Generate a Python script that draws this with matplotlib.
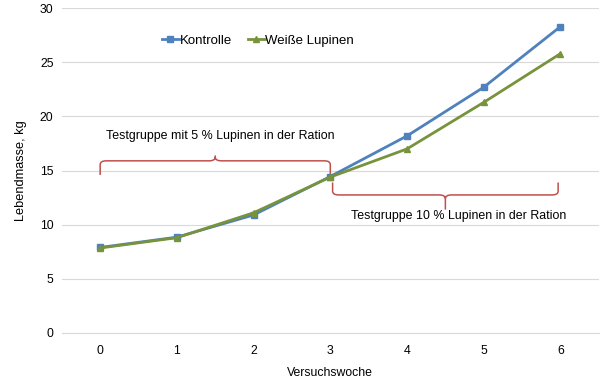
import numpy as np
import matplotlib
matplotlib.use("Agg")
import matplotlib.pyplot as plt
from matplotlib.path import Path
from matplotlib.patches import PathPatch

plt.rcParams['font.family'] = ['Liberation Sans', 'DejaVu Sans']

weeks = [0, 1, 2, 3, 4, 5, 6]
kontrolle = [7.9, 8.85, 10.9, 14.45, 18.2, 22.7, 28.3]
lupinen = [7.85, 8.8, 11.1, 14.4, 17.0, 21.3, 25.8]
series_names = ["Kontrolle", "Weiße Lupinen"]
brace_text_1 = "Testgruppe mit 5 % Lupinen in der Ration"
brace_text_2 = "Testgruppe 10 % Lupinen in der Ration"

BLUE = "#4F81BD"
GREEN = "#77933C"
RED = "#C0504D"


def brace(ax, x0, x1, y_end, y_line, y_tip, r=0.08, ry=0.35):
    # curly bracket: ends at y_end, horizontal at y_line, tip at y_tip
    xm = (x0 + x1) / 2
    d = np.sign(y_tip - y_line)
    verts = [(x0, y_end), (x0, y_line - d * ry), (x0, y_line), (x0 + r, y_line),
             (xm - r, y_line), (xm, y_line), (xm, y_line + d * ry), (xm, y_tip),
             (xm, y_line + d * ry), (xm, y_line), (xm + r, y_line),
             (x1 - r, y_line), (x1, y_line), (x1, y_line - d * ry), (x1, y_end)]
    codes = [Path.MOVETO, Path.LINETO, Path.CURVE3, Path.CURVE3,
             Path.LINETO, Path.CURVE3, Path.CURVE3, Path.LINETO,
             Path.MOVETO, Path.CURVE3, Path.CURVE3,
             Path.LINETO, Path.CURVE3, Path.CURVE3, Path.LINETO]
    ax.add_patch(PathPatch(Path(verts, codes), fill=False, edgecolor=RED, lw=1.1, zorder=2))


fig = plt.figure(figsize=(6, 3.89), dpi=100)
ax = fig.add_axes([0.103, 0.144, 0.895, 0.835])

ax.plot(weeks, kontrolle, color=BLUE, lw=2, marker="s", ms=4, label=series_names[0], zorder=3)
ax.plot(weeks, lupinen, color=GREEN, lw=2, marker="^", ms=4.5, label=series_names[1], zorder=4)

brace(ax, 0.0, 3.0, 14.6, 15.9, 16.4)
brace(ax, 3.03, 5.97, 13.9, 12.75, 11.4)
ax.text(1.56, 18.2, brace_text_1, ha="center", va="center", fontsize=8.9)
ax.text(4.67, 10.8, brace_text_2, ha="center", va="center", fontsize=8.9)

ax.set_xlim(-0.5, 6.5)
ax.set_ylim(0, 30)
ax.set_xticks(weeks)
ax.set_yticks(range(0, 31, 5))
ax.grid(axis="y", color="#D9D9D9", lw=0.8)
ax.set_axisbelow(True)
for s in ["top", "right", "left"]:
    ax.spines[s].set_visible(False)
ax.spines["bottom"].set_color("#D9D9D9")
ax.spines["bottom"].set_linewidth(0.8)
ax.tick_params(axis="both", length=0, labelsize=8.8, colors="black")
ax.tick_params(axis="y", pad=6)
ax.tick_params(axis="x", pad=9)
ax.set_xlabel("Versuchswoche", fontsize=8.8, labelpad=7)
ax.set_ylabel("Lebendmasse, kg", fontsize=9.2, labelpad=9)

ax.legend(loc="center left", bbox_to_anchor=(0.164, 0.90), ncol=2, frameon=False,
          fontsize=9.5, handlelength=1.3, handletextpad=0.05, columnspacing=1.2)

fig.savefig("out.png", dpi=100)
